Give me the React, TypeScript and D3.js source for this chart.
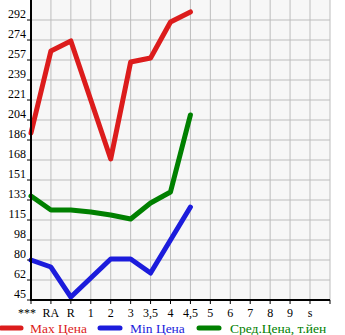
import React from "react";
import * as d3 from "d3";

const categories = ["***", "RA", "R", "1", "2", "3", "3,5", "4", "4,5", "5", "6", "7", "8", "9", "s"];
const maxPrice: (number | null)[] = [192.3, 264.7, 273.5, 221.4, 169.4, 255, 258.5, 290.2, 299.1, null, null, null, null, null, null];
const minPrice: (number | null)[] = [80.3, 74.1, 47.6, 64.4, 81.2, 81.2, 68.8, 97.9, 127, null, null, null, null, null, null];
const avgPrice: (number | null)[] = [136.7, 124.4, 124.4, 122.6, 120, 116.5, 130.6, 140.3, 208.2, null, null, null, null, null, null];
const yTickLabels = ["45", "62", "80", "98", "115", "133", "151", "168", "186", "204", "221", "239", "257", "274", "292"];
const legendNames = ["Max Цена", "Min Цена", "Сред.Цена, т.йен"];
const colors = ["#dc1c1c", "#1c1cdc", "#008000"];

const W = 345, H = 335;
const left = 31, right = 330, top = 0, bottom = 300;

export default function App() {
  const x = d3.scalePoint<string>().domain(categories).range([left, 310]);
  const y = d3.scaleLinear().domain([45, 292]).range([bottom, 20]);
  const stepVal = (292 - 45) / (yTickLabels.length - 1);
  const tickVals = yTickLabels.map((_, i) => 45 + i * stepVal);
  const line = d3
    .line<number | null>()
    .defined((d) => d != null)
    .x((_, i) => x(categories[i]) as number)
    .y((d) => y(d as number));
  const series = [maxPrice, minPrice, avgPrice];
  const font = "'Liberation Serif', 'DejaVu Serif', serif";
  const vGrid = categories.map((c) => x(c) as number).concat([right]);

  return (
    <svg width={W} height={H} style={{ position: "absolute", left: 0, top: 0, background: "#fff" }}>
      <rect x={left} y={top} width={right - left} height={bottom - top} fill="#f7f7f7" />
      {vGrid.map((gx, i) => (
        <line key={"v" + i} x1={gx} x2={gx} y1={top} y2={bottom} stroke="#bdbdbd" strokeWidth={1} />
      ))}
      {tickVals.map((v, i) => (
        <line key={"h" + i} x1={left} x2={right} y1={Math.round(y(v))} y2={Math.round(y(v))} stroke="#bdbdbd" strokeWidth={1} />
      ))}
      {series.map((s, i) => (
        <path key={"s" + i} d={line(s) || ""} fill="none" stroke={colors[i]} strokeWidth={5} strokeLinejoin="round" strokeLinecap="round" />
      ))}
      <line x1={left} x2={left} y1={top} y2={bottom + 1} stroke="#000" strokeWidth={2} />
      <line x1={left} x2={right} y1={bottom} y2={bottom} stroke="#000" strokeWidth={2} />
      {tickVals.map((v, i) => (
        <g key={"yt" + i}>
          <line x1={left - 4} x2={left} y1={Math.round(y(v))} y2={Math.round(y(v))} stroke="#000" strokeWidth={1} />
          <text x={26} y={Math.round(y(v)) - 2} textAnchor="end" fontFamily={font} fontSize={12} fill="#000">
            {yTickLabels[i]}
          </text>
        </g>
      ))}
      {vGrid.map((gx, i) => (
        <line key={"xt" + i} x1={gx} x2={gx} y1={bottom} y2={bottom + 4} stroke="#000" strokeWidth={1} />
      ))}
      {categories.map((c, i) => (
        <text key={"xl" + i} x={(x(c) as number) + (i === 0 ? -4 : 0)} y={317} textAnchor="middle" fontFamily={font} fontSize={12} fill="#000">
          {c}
        </text>
      ))}
      {legendNames.map((n, i) => (
        <g key={"lg" + i}>
          <line x1={1 + i * 99} x2={21 + i * 99} y1={328} y2={328} stroke={colors[i]} strokeWidth={5} strokeLinecap="round" />
          <text x={30 + i * 100} y={333} fontFamily={font} fontSize={13.5} fill={colors[i]}>
            {n}
          </text>
        </g>
      ))}
    </svg>
  );
}
